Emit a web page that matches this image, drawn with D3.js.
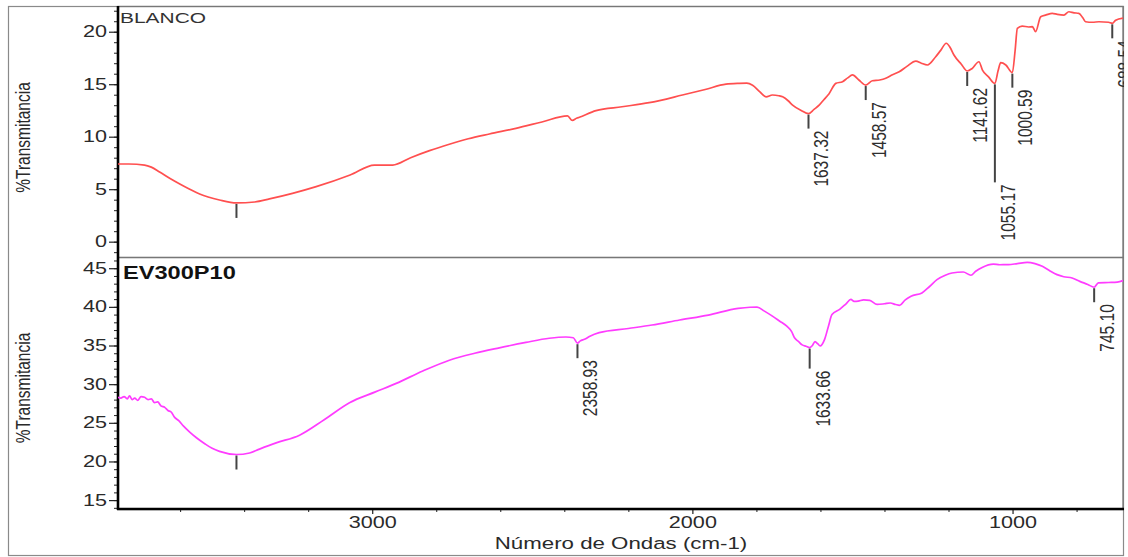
<!DOCTYPE html>
<html>
<head>
<meta charset="utf-8">
<script src="https://cdn.jsdelivr.net/npm/d3@7"></script>
<style>
  html, body { margin: 0; padding: 0; background: #fff; }
  svg { display: block; font-family: "Liberation Sans", Arial, sans-serif; }
</style>
</head>
<body>
<svg id="chart" width="1128" height="557"></svg>
<script>
// ---- FTIR spectra: wavenumber (cm-1) and % transmittance ----
const blancoWn = [3794, 3760, 3711, 3690, 3664, 3630, 3601, 3570, 3539, 3477, 3424, 3367, 3321, 3249, 3175, 3069, 2993, 2936, 2880, 2821, 2759, 2700, 2634, 2551, 2470, 2390, 2375, 2362, 2353, 2301, 2220, 2135, 2031, 1960, 1895, 1854, 1830, 1812, 1790, 1770, 1750, 1730, 1718, 1700, 1687, 1660, 1637.32, 1620, 1604, 1590, 1573, 1552, 1531, 1515, 1500, 1480, 1458.57, 1438, 1415, 1396, 1375, 1354, 1330, 1302, 1285, 1266, 1240, 1225, 1207, 1195, 1183, 1160, 1141.62, 1126, 1105, 1094, 1075, 1055.17, 1045, 1037, 1021, 1000.59, 992, 985, 970, 950, 938, 928, 912, 895, 876, 860, 839.5, 824, 808, 793, 780, 772, 750, 730, 700, 688.54, 678, 655];
const blancoT = [7.4, 7.4, 7.3, 7.1, 6.64, 6.0, 5.5, 5.0, 4.54, 3.97, 3.69, 3.78, 4.07, 4.6, 5.24, 6.35, 7.3, 7.3, 8.0, 8.67, 9.28, 9.8, 10.26, 10.8, 11.4, 11.98, 11.55, 11.75, 11.85, 12.48, 12.85, 13.24, 13.97, 14.5, 15.0, 15.08, 15.1, 14.9, 14.3, 13.8, 13.97, 13.9, 13.8, 13.4, 13.0, 12.5, 12.2, 12.6, 13.0, 13.5, 14.1, 15.08, 15.24, 15.6, 15.88, 15.4, 14.92, 15.33, 15.4, 15.56, 15.9, 16.19, 16.7, 17.2, 17.0, 16.83, 17.62, 18.2, 18.9, 18.5, 17.78, 16.9, 16.26, 16.5, 17.14, 16.35, 15.7, 15.08, 16.3, 17.05, 16.83, 16.1, 18.2, 20.32, 20.54, 20.45, 20.48, 20.0, 21.43, 21.6, 21.75, 21.65, 21.59, 21.9, 21.8, 21.75, 21.3, 20.95, 20.9, 20.95, 20.9, 20.8, 21.1, 21.3];

const evWn = [3794, 3785, 3775, 3765, 3758, 3750, 3742, 3732, 3722, 3711, 3700, 3690, 3680, 3670, 3660, 3648, 3638, 3628, 3617, 3605, 3590, 3570, 3550, 3523, 3500, 3477, 3424, 3383, 3352, 3300, 3227, 3150, 3071, 2990, 2925, 2842, 2759, 2680, 2603, 2520, 2447, 2395, 2372, 2358.93, 2350, 2337, 2320, 2291, 2200, 2126, 2040, 1950, 1857, 1820, 1798, 1775, 1750, 1728, 1705, 1690, 1681, 1668, 1657, 1645, 1633.66, 1625, 1617, 1608, 1601, 1587, 1575, 1564, 1540, 1520, 1505, 1495, 1482, 1465, 1446, 1423, 1400, 1382, 1365, 1353, 1335, 1317, 1283, 1260, 1236, 1210, 1189, 1154, 1130, 1115, 1095, 1060, 1040, 1013, 985, 954, 930, 907, 885, 861, 840, 814, 790, 765, 745.10, 732, 700, 673, 655];
const evT = [28.3, 28.2, 28.4, 28.1, 28.5, 28.0, 28.2, 27.9, 28.4, 28.3, 28.0, 28.1, 27.6, 27.7, 27.2, 27.0, 26.6, 26.4, 25.7, 25.3, 24.6, 23.8, 23.1, 22.3, 21.7, 21.3, 20.9, 21.1, 21.6, 22.4, 23.4, 25.4, 27.6, 29.0, 30.1, 31.7, 33.1, 34.0, 34.7, 35.4, 35.94, 36.1, 36.0, 35.3, 35.6, 35.8, 36.2, 36.66, 37.2, 37.65, 38.3, 38.94, 39.8, 39.95, 39.97, 39.45, 38.8, 38.17, 37.5, 36.8, 36.0, 35.5, 35.08, 34.9, 34.73, 35.0, 35.5, 35.2, 34.95, 35.8, 37.5, 39.0, 39.67, 40.4, 40.96, 40.7, 40.74, 40.9, 40.83, 40.31, 40.4, 40.5, 40.3, 40.2, 40.9, 41.38, 41.8, 42.6, 43.53, 44.1, 44.38, 44.51, 44.09, 44.6, 45.1, 45.54, 45.45, 45.46, 45.6, 45.76, 45.6, 45.24, 44.7, 44.17, 43.9, 43.74, 43.3, 42.9, 42.54, 43.1, 43.15, 43.2, 43.4];

// picked peaks (an empty label means an unlabelled marker)
const blancoPeakWn = [3424, 1637.32, 1458.57, 1141.62, 1055.17, 1000.59, 688.54];
const blancoPeakLabels = ["", "1637.32", "1458.57", "1141.62", "1055.17", "1000.59", "688.54"];
const evPeakWn = [3424, 2358.93, 1633.66, 745.10];
const evPeakLabels = ["", "2358.93", "1633.66", "745.10"];

// axis ticks
const xTicks = [3000, 2000, 1000];
const xMinorTicks = [3600, 3400, 3200, 2800, 2600, 2400, 2200, 1800, 1600, 1400, 1200, 800];
const blancoYTicks = [0, 5, 10, 15, 20];
const evYTicks = [15, 20, 25, 30, 35, 40, 45];

const sampleNames = ["BLANCO", "EV300P10"];
const yTitle = "%Transmitancia";
const xTitle = "Número de Ondas (cm-1)";

// ---- layout ----
const svg = d3.select("#chart");
const left = 118, right = 1123;
const topPanel = { y0: 6, y1: 257 };
const botPanel = { y0: 257, y1: 509 };
const SX = 1.35;            // horizontal text stretch
const ink = "#2a2a2a";

const x = d3.scaleLinear().domain([3794, 655]).range([left, right]);
const yTop = d3.scaleLinear().domain([-1.46, 22.45]).range([topPanel.y1, topPanel.y0]);
const yBot = d3.scaleLinear().domain([13.85, 46.45]).range([botPanel.y1, botPanel.y0]);

svg.append("rect").attr("width", 1128).attr("height", 557).attr("fill", "#fff");

// outer frame
svg.append("rect").attr("x", 8.5).attr("y", 6.5).attr("width", right - 8).attr("height", 549)
  .attr("fill", "none").attr("stroke", "#8a8a8a").attr("stroke-width", 1.2);

// panel borders
[topPanel, botPanel].forEach(p => {
  svg.append("rect").attr("x", left).attr("y", p.y0 + 0.5).attr("width", right - left).attr("height", p.y1 - p.y0)
    .attr("fill", "none").attr("stroke", "#777").attr("stroke-width", 1.3);
});

svg.append("defs").append("clipPath").attr("id", "plotClip")
  .append("rect").attr("x", left).attr("y", topPanel.y0).attr("width", right - left + 1).attr("height", botPanel.y1 - topPanel.y0);

function stretchText(g, tx, ty, txt, opts) {
  const t = g.append("text")
    .attr("transform", `translate(${tx},${ty}) scale(${SX},1)` + (opts.rotate ? ` rotate(${opts.rotate})` : ""))
    .attr("font-size", opts.size)
    .attr("font-weight", opts.weight || "normal")
    .attr("fill", opts.fill || ink)
    .attr("text-anchor", opts.anchor || "start")
    .text(txt);
  if (opts.dy) t.attr("dy", opts.dy);
  return t;
}

function drawYAxis(scale, panel, major, minorRange) {
  const g = svg.append("g").attr("transform", `translate(${left},0)`);
  const minor = d3.range(minorRange[0], minorRange[1] + 1);
  g.call(d3.axisLeft(scale).tickValues(minor).tickSize(4).tickFormat(""))
    .call(a => a.select(".domain").remove())
    .call(a => a.selectAll("line").attr("stroke", "#222").attr("stroke-width", 1));
  const gm = svg.append("g").attr("transform", `translate(${left},0)`);
  gm.call(d3.axisLeft(scale).tickValues(major).tickSize(9).tickPadding(3).tickFormat(d3.format("d")))
    .call(a => a.select(".domain").remove())
    .call(a => a.selectAll("line").attr("stroke", "#222").attr("stroke-width", 1.2))
    .call(a => a.selectAll("text")
      .attr("x", -11 / SX).attr("transform", `scale(${SX},1)`)
      .attr("font-size", 16).attr("fill", ink).attr("font-family", "Liberation Sans, Arial, sans-serif"));
}

drawYAxis(yTop, topPanel, blancoYTicks, [-1, 22]);
drawYAxis(yBot, botPanel, evYTicks, [14, 46]);

// bottom x axis
const gx = svg.append("g").attr("transform", `translate(0,${botPanel.y1})`);
gx.call(d3.axisBottom(x).tickValues(xMinorTicks).tickSize(3).tickFormat(""))
  .call(a => a.select(".domain").remove())
  .call(a => a.selectAll("line").attr("stroke", "#222"));
const gx2 = svg.append("g").attr("transform", `translate(0,${botPanel.y1})`);
gx2.call(d3.axisBottom(x).tickValues(xTicks).tickSize(5).tickPadding(3).tickFormat(d3.format("d")))
  .call(a => a.select(".domain").remove())
  .call(a => a.selectAll("line").attr("stroke", "#222").attr("stroke-width", 1.2))
  .call(a => a.selectAll("text").attr("transform", `scale(${SX},1)`).attr("y", 8)
    .attr("font-size", 16).attr("fill", ink).attr("font-family", "Liberation Sans, Arial, sans-serif"));
gx2.selectAll(".tick text").attr("x", 0);

// heavy axis lines
svg.append("line").attr("x1", left).attr("x2", left).attr("y1", topPanel.y0).attr("y2", botPanel.y1 + 1)
  .attr("stroke", "#000").attr("stroke-width", 2.6);
svg.append("line").attr("x1", left - 1).attr("x2", right + 1).attr("y1", botPanel.y1).attr("y2", botPanel.y1)
  .attr("stroke", "#000").attr("stroke-width", 2.6);

// axis titles
stretchText(svg, 30, (topPanel.y0 + topPanel.y1) / 2 + 6, yTitle, { size: 15.5, rotate: -90, anchor: "middle" });
stretchText(svg, 30, (botPanel.y0 + botPanel.y1) / 2 + 5, yTitle, { size: 15.5, rotate: -90, anchor: "middle" });
stretchText(svg, 621, 549, xTitle, { size: 16.5, anchor: "middle" });

// sample names
stretchText(svg, 120, 22.5, sampleNames[0], { size: 15.5, fill: "#333" });
stretchText(svg, 123, 279, sampleNames[1], { size: 17.5, weight: "bold", fill: "#111" });

// spectra
const plot = svg.append("g").attr("clip-path", "url(#plotClip)");
function drawSpectrum(wn, vals, yScale, color) {
  const pts = wn.map((w, i) => [w, vals[i]]);
  plot.append("path").datum(pts)
    .attr("fill", "none").attr("stroke", color).attr("stroke-width", 1.7)
    .attr("stroke-linejoin", "round")
    .attr("d", d3.line().curve(d3.curveMonotoneX).x(d => x(d[0])).y(d => yScale(d[1])));
}
drawSpectrum(blancoWn, blancoT, yTop, "#ff4f4f");
drawSpectrum(evWn, evT, yBot, "#ff3cff");

// peak markers: stem below the trace, label rotated underneath
function drawPeaks(peakWn, labels, wn, vals, yScale, longStems) {
  peakWn.forEach((p, i) => {
    const idx = wn.indexOf(p);
    const yv = yScale(vals[idx]);
    const px = x(p);
    const len = longStems[labels[i]] || 14;
    const y0 = yv + 1, y1 = yv + 1 + len;
    plot.append("line").attr("x1", px).attr("x2", px).attr("y1", y0).attr("y2", y1)
      .attr("stroke", "#444").attr("stroke-width", 2);
    if (labels[i]) {
      stretchText(plot, px + 20, y1 + 2, labels[i], { size: 15.5, rotate: -90, anchor: "end", fill: "#2e2e2e" });
    }
  });
}
drawPeaks(blancoPeakWn, blancoPeakLabels, blancoWn, blancoT, yTop, { "1055.17": 98 });
drawPeaks(evPeakWn, evPeakLabels, evWn, evT, yBot, { "1633.66": 20 });
</script>
</body>
</html>
